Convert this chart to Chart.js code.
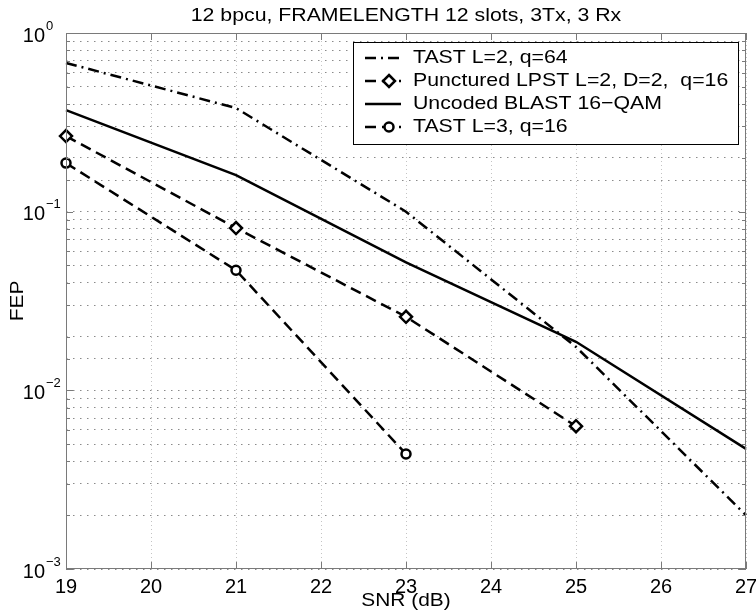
<!DOCTYPE html>
<html>
<head>
<meta charset="utf-8">
<script src="https://cdn.jsdelivr.net/npm/chart.js@4.4.1/dist/chart.umd.min.js"></script>
<style>
  body { margin: 0; background: #fff; }
  canvas { display: block; }
</style>
</head>
<body>
<canvas id="fepChart" width="756" height="614"></canvas>
<script>
const titleText = "12 bpcu, FRAMELENGTH 12 slots, 3Tx, 3 Rx";
const xLabel = "SNR (dB)";
const yLabel = "FEP";

const xTicks = [19, 20, 21, 22, 23, 24, 25, 26, 27];
const yTickExps = [0, -1, -2, -3];

const snrTastL2 = [19, 21, 23, 25, 27];
const fepTastL2 = [0.68, 0.38, 0.10, 0.0175, 0.0020];

const snrLpst = [19, 21, 23, 25];
const fepLpst = [0.265, 0.081, 0.0258, 0.0063];

const snrBlast = [19, 21, 23, 25, 27];
const fepBlast = [0.37, 0.16, 0.052, 0.0187, 0.0047];

const snrTastL3 = [19, 21, 23];
const fepTastL3 = [0.187, 0.047, 0.0044];

const seriesNames = [
  "TAST L=2, q=64",
  "Punctured LPST L=2, D=2,  q=16",
  "Uncoded BLAST 16\u2212QAM",
  "TAST L=3, q=16",
];

const FONT = '"Liberation Sans", Arial, sans-serif';

function toPoints(xs, ys) {
  return xs.map((x, i) => ({ x: x, y: ys[i] }));
}

function txt(ctx, s, x, y, size, align, sx) {
  ctx.save();
  ctx.translate(x, y);
  ctx.scale(sx || 1, 1);
  ctx.font = size + "px " + FONT;
  ctx.fillStyle = "#000";
  ctx.textAlign = align;
  ctx.textBaseline = "middle";
  ctx.fillText(s, 0, 0);
  ctx.restore();
}

function drawMarker(ctx, style, cx, cy, r) {
  ctx.beginPath();
  if (style === "rectRot") {
    ctx.moveTo(cx, cy - r);
    ctx.lineTo(cx + r, cy);
    ctx.lineTo(cx, cy + r);
    ctx.lineTo(cx - r, cy);
    ctx.closePath();
  } else {
    ctx.arc(cx, cy, r, 0, Math.PI * 2);
  }
  ctx.fillStyle = "#fff";
  ctx.fill();
  ctx.stroke();
}

// MATLAB-like box, inward ticks, labels and legend
const matlabAxes = {
  id: "matlabAxes",
  afterDraw(chart) {
    const { ctx, chartArea: a, scales } = chart;
    const xs = scales.x, ys = scales.y;
    ctx.save();

    // box
    ctx.strokeStyle = "#7a7a7a";
    ctx.lineWidth = 1;
    ctx.setLineDash([]);
    ctx.strokeRect(a.left + 0.5, a.top + 0.5, a.right - a.left - 1, a.bottom - a.top - 1);

    // x ticks (top and bottom, inward)
    ctx.beginPath();
    xTicks.forEach(v => {
      const px = Math.round(xs.getPixelForValue(v)) + 0.5;
      ctx.moveTo(px, a.bottom); ctx.lineTo(px, a.bottom - 7);
      ctx.moveTo(px, a.top); ctx.lineTo(px, a.top + 7);
    });
    // y ticks (left and right, inward)
    ys.ticks.forEach(t => {
      const lg = Math.log10(t.value);
      const major = Math.abs(lg - Math.round(lg)) < 1e-6;
      const len = major ? 7 : 4;
      const py = Math.round(ys.getPixelForValue(t.value)) + 0.5;
      ctx.moveTo(a.left, py); ctx.lineTo(a.left + len, py);
      ctx.moveTo(a.right, py); ctx.lineTo(a.right - len, py);
    });
    ctx.stroke();

    // tick labels
    xTicks.forEach(v => txt(ctx, String(v), xs.getPixelForValue(v), a.bottom + 18, 20, "center"));
    yTickExps.forEach(e => {
      const py = ys.getPixelForValue(Math.pow(10, e));
      txt(ctx, "10", a.left - 21, py + 3, 20, "right");
      txt(ctx, e === 0 ? "0" : "\u2212" + Math.abs(e), a.left - 20, py - 7, 13, "left");
    });

    // title and axis labels
    txt(ctx, titleText, (a.left + a.right) / 2, 16, 19, "center", 1.12);
    txt(ctx, xLabel, (a.left + a.right) / 2, a.bottom + 32, 19, "center", 1.1);
    ctx.save();
    ctx.translate(18, (a.top + a.bottom) / 2);
    ctx.rotate(-Math.PI / 2);
    txt(ctx, yLabel, 0, 0, 19, "center", 1.1);
    ctx.restore();

    // legend
    const lx = 353, ly = 42, lw = 385, lh = 102;
    ctx.fillStyle = "#fff";
    ctx.fillRect(lx, ly, lw, lh);
    ctx.strokeStyle = "#000";
    ctx.lineWidth = 1;
    ctx.strokeRect(lx + 0.5, ly + 0.5, lw, lh);
    chart.data.datasets.forEach((ds, i) => {
      const ry = ly + 16 + i * 23;
      ctx.save();
      ctx.strokeStyle = "#000";
      ctx.lineWidth = ds.borderWidth;
      ctx.setLineDash(ds.borderDash || []);
      ctx.beginPath();
      ctx.moveTo(lx + 12, ry);
      ctx.lineTo(lx + 48, ry);
      ctx.stroke();
      ctx.setLineDash([]);
      if (ds.pointRadius > 0) {
        ctx.lineWidth = ds.pointBorderWidth;
        drawMarker(ctx, ds.pointStyle, lx + 36, ry, ds.pointRadius);
      }
      ctx.restore();
      txt(ctx, ds.label, lx + 60, ry, 19, "left", 1.12);
    });

    ctx.restore();
  },
};

const lineBase = {
  borderColor: "#000",
  borderWidth: 2.5,
  tension: 0,
  fill: false,
  clip: false,
  pointBorderColor: "#000",
  pointBackgroundColor: "#fff",
  pointBorderWidth: 2.5,
};

new Chart(document.getElementById("fepChart").getContext("2d"), {
  type: "line",
  data: {
    datasets: [
      Object.assign({}, lineBase, {
        label: seriesNames[0],
        data: toPoints(snrTastL2, fepTastL2),
        borderDash: [11, 5, 2, 5],
        pointRadius: 0,
      }),
      Object.assign({}, lineBase, {
        label: seriesNames[1],
        data: toPoints(snrLpst, fepLpst),
        borderDash: [11, 6],
        pointStyle: "rectRot",
        pointRadius: 6,
      }),
      Object.assign({}, lineBase, {
        label: seriesNames[2],
        data: toPoints(snrBlast, fepBlast),
        borderDash: [],
        pointRadius: 0,
      }),
      Object.assign({}, lineBase, {
        label: seriesNames[3],
        data: toPoints(snrTastL3, fepTastL3),
        borderDash: [11, 6],
        pointStyle: "circle",
        pointRadius: 4.5,
      }),
    ],
  },
  options: {
    responsive: false,
    animation: false,
    devicePixelRatio: 1,
    layout: { padding: { top: 33, right: 10, left: 0, bottom: 0 } },
    plugins: {
      legend: { display: false },
      title: { display: false },
      tooltip: { enabled: false },
    },
    scales: {
      x: {
        type: "linear",
        min: 19,
        max: 27,
        ticks: { display: false, stepSize: 1 },
        grid: { color: "#c4c4c4", lineWidth: 1, drawTicks: false },
        border: { display: false, dash: [1, 3] },
        afterFit: (s) => { s.height = 45; },
      },
      y: {
        type: "logarithmic",
        min: 0.001,
        max: 1,
        ticks: { display: false, autoSkip: false },
        grid: { color: "#8a8a8a", lineWidth: 1, drawTicks: false },
        border: { display: false, dash: [1.5, 5.5] },
        afterFit: (s) => { s.width = 66; },
      },
    },
  },
  plugins: [matlabAxes],
});
</script>
</body>
</html>
